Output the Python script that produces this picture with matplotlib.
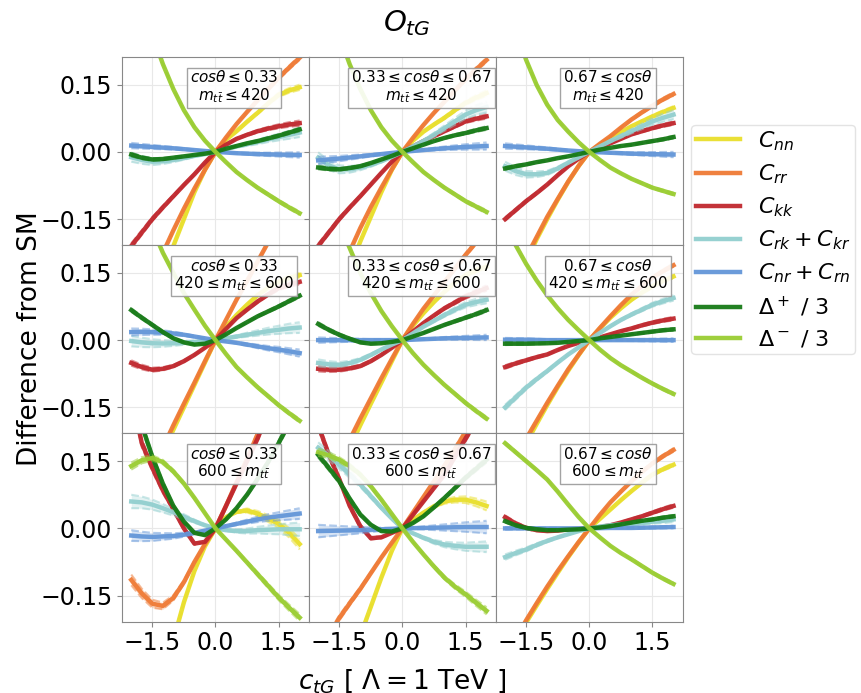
import matplotlib
matplotlib.use('Agg')
import matplotlib.pyplot as plt
import numpy as np

# scan points in c_tG
ctg = [-2.0, -1.75, -1.5, -1.25, -1.0, -0.75, -0.5, -0.25, 0.0,
       0.25, 0.5, 0.75, 1.0, 1.25, 1.5, 1.75, 2.0]

# panel order: row = m_tt bin, column = cos(theta) bin
cos_bins = [r'$cos\theta \leq 0.33$',
            r'$0.33 \leq cos\theta \leq 0.67$',
            r'$0.67 \leq cos\theta$']
mtt_bins = [r'$m_{t\bar{t}} \leq 420$',
            r'$420 \leq m_{t\bar{t}} \leq 600$',
            r'$600 \leq m_{t\bar{t}}$']

cnn = [[-0.45, -0.39, -0.33, -0.27, -0.21, -0.15, -0.09, -0.04, 0, 0.027, 0.046, 0.067, 0.087, 0.108, 0.127, 0.137, 0.144],
       [-0.44, -0.38, -0.32, -0.26, -0.20, -0.145, -0.09, -0.04, 0, 0.025, 0.045, 0.061, 0.076, 0.093, 0.109, 0.121, 0.131],
       [-0.35, -0.295, -0.245, -0.195, -0.15, -0.107, -0.067, -0.031, 0, 0.016, 0.031, 0.044, 0.057, 0.068, 0.079, 0.089, 0.098],
       [-0.42, -0.36, -0.30, -0.25, -0.20, -0.15, -0.10, -0.05, 0, 0.03, 0.056, 0.079, 0.10, 0.117, 0.13, 0.139, 0.145],
       [-0.40, -0.345, -0.29, -0.24, -0.19, -0.142, -0.095, -0.047, 0, 0.032, 0.06, 0.085, 0.108, 0.128, 0.145, 0.156, 0.164],
       [-0.32, -0.275, -0.23, -0.187, -0.145, -0.105, -0.068, -0.033, 0, 0.026, 0.05, 0.071, 0.09, 0.106, 0.12, 0.132, 0.142],
       [-0.70, -0.57, -0.45, -0.345, -0.25, -0.165, -0.095, -0.04, 0, 0.025, 0.037, 0.04, 0.033, 0.022, 0.01, -0.01, -0.035],
       [-0.50, -0.44, -0.38, -0.31, -0.24, -0.175, -0.11, -0.05, 0, 0.019, 0.035, 0.049, 0.06, 0.064, 0.064, 0.058, 0.05],
       [-0.30, -0.255, -0.21, -0.172, -0.135, -0.099, -0.064, -0.031, 0, 0.021, 0.042, 0.063, 0.083, 0.102, 0.12, 0.132, 0.142]]

crr = [[-0.40, -0.34, -0.28, -0.226, -0.175, -0.127, -0.082, -0.04, 0, 0.032, 0.062, 0.089, 0.115, 0.14, 0.165, 0.188, 0.21],
       [-0.39, -0.332, -0.275, -0.222, -0.17, -0.123, -0.08, -0.039, 0, 0.031, 0.06, 0.087, 0.112, 0.137, 0.162, 0.184, 0.205],
       [-0.34, -0.285, -0.235, -0.19, -0.145, -0.105, -0.066, -0.031, 0, 0.018, 0.035, 0.054, 0.072, 0.088, 0.103, 0.117, 0.129],
       [-0.40, -0.345, -0.29, -0.24, -0.19, -0.142, -0.095, -0.047, 0, 0.045, 0.09, 0.132, 0.175, 0.218, 0.26, 0.30, 0.34],
       [-0.37, -0.32, -0.27, -0.222, -0.175, -0.13, -0.085, -0.042, 0, 0.036, 0.07, 0.10, 0.13, 0.16, 0.19, 0.218, 0.245],
       [-0.31, -0.265, -0.22, -0.18, -0.14, -0.102, -0.065, -0.032, 0, 0.027, 0.053, 0.078, 0.101, 0.121, 0.139, 0.154, 0.167],
       [-0.115, -0.145, -0.168, -0.173, -0.155, -0.12, -0.075, -0.035, 0, 0.05, 0.103, 0.155, 0.21, 0.27, 0.33, 0.39, 0.45],
       [-0.28, -0.24, -0.20, -0.167, -0.135, -0.10, -0.065, -0.032, 0, 0.035, 0.07, 0.105, 0.14, 0.177, 0.215, 0.252, 0.29],
       [-0.29, -0.247, -0.205, -0.167, -0.13, -0.095, -0.062, -0.03, 0, 0.03, 0.058, 0.082, 0.105, 0.126, 0.145, 0.161, 0.175]]

ckk = [[-0.21, -0.18, -0.15, -0.124, -0.099, -0.074, -0.05, -0.024, 0, 0.016, 0.029, 0.038, 0.046, 0.052, 0.057, 0.061, 0.064],
       [-0.21, -0.18, -0.15, -0.124, -0.099, -0.073, -0.047, -0.022, 0, 0.012, 0.024, 0.035, 0.046, 0.057, 0.068, 0.074, 0.079],
       [-0.15, -0.13, -0.11, -0.092, -0.073, -0.052, -0.032, -0.015, 0, 0.01, 0.019, 0.029, 0.039, 0.046, 0.053, 0.059, 0.064],
       [-0.051, -0.06, -0.066, -0.064, -0.058, -0.047, -0.033, -0.017, 0, 0.025, 0.049, 0.068, 0.086, 0.102, 0.116, 0.124, 0.13],
       [-0.064, -0.066, -0.066, -0.063, -0.058, -0.047, -0.033, -0.017, 0, 0.019, 0.038, 0.055, 0.071, 0.084, 0.097, 0.107, 0.116],
       [-0.06, -0.052, -0.045, -0.038, -0.032, -0.022, -0.013, -0.006, 0, 0.006, 0.013, 0.02, 0.026, 0.033, 0.039, 0.044, 0.048],
       [0.30, 0.19, 0.135, 0.085, 0.043, 0.0, -0.034, -0.03, 0, 0.05, 0.10, 0.15, 0.20, 0.26, 0.32, 0.375, 0.43],
       [0.23, 0.165, 0.11, 0.05, 0.005, -0.022, -0.02, -0.01, 0, 0.03, 0.06, 0.09, 0.12, 0.16, 0.20, 0.24, 0.28],
       [0.025, 0.011, 0.001, -0.004, -0.006, -0.005, -0.002, -0.001, 0, 0.003, 0.007, 0.013, 0.02, 0.027, 0.035, 0.043, 0.05]]

crk = [[-0.012, -0.018, -0.022, -0.021, -0.018, -0.014, -0.009, -0.005, 0, 0.006, 0.012, 0.017, 0.022, 0.028, 0.033, 0.038, 0.043],
       [-0.013, -0.03, -0.039, -0.039, -0.035, -0.029, -0.021, -0.011, 0, 0.012, 0.024, 0.038, 0.053, 0.068, 0.083, 0.093, 0.10],
       [-0.032, -0.043, -0.05, -0.05, -0.047, -0.037, -0.024, -0.012, 0, 0.012, 0.024, 0.035, 0.046, 0.057, 0.068, 0.076, 0.083],
       [-0.002, -0.005, -0.007, -0.0075, -0.007, -0.006, -0.004, -0.002, 0, 0.004, 0.008, 0.012, 0.016, 0.02, 0.023, 0.026, 0.028],
       [-0.051, -0.054, -0.055, -0.051, -0.044, -0.033, -0.021, -0.01, 0, 0.015, 0.03, 0.043, 0.056, 0.068, 0.079, 0.085, 0.09],
       [-0.15, -0.128, -0.106, -0.087, -0.069, -0.05, -0.032, -0.016, 0, 0.016, 0.031, 0.045, 0.057, 0.068, 0.079, 0.087, 0.094],
       [0.06, 0.058, 0.053, 0.045, 0.036, 0.026, 0.016, 0.007, 0, -0.004, -0.006, -0.006, -0.004, -0.003, -0.002, -0.002, -0.002],
       [0.18, 0.162, 0.142, 0.12, 0.098, 0.072, 0.046, 0.022, 0, -0.011, -0.021, -0.03, -0.036, -0.039, -0.041, -0.041, -0.041],
       [-0.064, -0.055, -0.047, -0.037, -0.028, -0.02, -0.013, -0.006, 0, 0.004, 0.007, 0.009, 0.01, 0.012, 0.015, 0.017, 0.02]]

cnr = [[0.014, 0.0125, 0.011, 0.0095, 0.008, 0.006, 0.004, 0.002, 0, -0.0015, -0.003, -0.004, -0.005, -0.0055, -0.006, -0.0065, -0.007],
       [-0.019, -0.017, -0.015, -0.0125, -0.01, -0.0075, -0.005, -0.0025, 0, 0.002, 0.004, 0.006, 0.008, 0.0095, 0.011, 0.012, 0.013],
       [0.013, 0.0115, 0.01, 0.0085, 0.007, 0.005, 0.003, 0.0015, 0, -0.001, -0.002, -0.003, -0.004, -0.0045, -0.005, -0.0055, -0.006],
       [0.018, 0.0185, 0.018, 0.017, 0.015, 0.012, 0.008, 0.004, 0, -0.003, -0.006, -0.01, -0.014, -0.018, -0.021, -0.025, -0.029],
       [0.0, 0.0, 0.0, 0.0, 0.0, 0.0, 0.0, 0.0, 0, 0.001, 0.002, 0.003, 0.004, 0.0045, 0.005, 0.0055, 0.006],
       [0.001, 0.001, 0.001, 0.0005, 0.0, 0.0, 0.0, 0.0, 0, 0.0, 0.0, 0.0, 0.0, 0.0, 0.0, 0.0, 0.0],
       [-0.016, -0.018, -0.019, -0.018, -0.017, -0.014, -0.01, -0.005, 0, 0.005, 0.01, 0.015, 0.02, 0.024, 0.027, 0.03, 0.033],
       [-0.006, -0.0055, -0.005, -0.0045, -0.004, -0.003, -0.002, -0.001, 0, 0.0005, 0.001, 0.0015, 0.002, 0.0025, 0.003, 0.003, 0.003],
       [0.0, 0.0, 0.0, 0.0, 0.0, 0.0, 0.0, 0.0, 0, 0.0005, 0.001, 0.001, 0.001, 0.0015, 0.002, 0.0025, 0.003]]

dplus = [[-0.006, -0.013, -0.017, -0.016, -0.013, -0.01, -0.007, -0.004, 0, 0.007, 0.013, 0.019, 0.024, 0.03, 0.036, 0.043, 0.05],
         [-0.035, -0.038, -0.039, -0.036, -0.032, -0.025, -0.017, -0.009, 0, 0.008, 0.016, 0.024, 0.031, 0.037, 0.042, 0.048, 0.053],
         [-0.037, -0.032, -0.028, -0.023, -0.019, -0.014, -0.01, -0.005, 0, 0.005, 0.009, 0.013, 0.016, 0.02, 0.024, 0.028, 0.033],
         [0.067, 0.05, 0.034, 0.018, 0.004, -0.005, -0.01, -0.008, 0, 0.013, 0.027, 0.04, 0.053, 0.064, 0.075, 0.087, 0.099],
         [0.036, 0.023, 0.012, 0.003, -0.005, -0.008, -0.007, -0.004, 0, 0.008, 0.016, 0.025, 0.034, 0.042, 0.05, 0.058, 0.067],
         [-0.008, -0.008, -0.008, -0.0075, -0.007, -0.006, -0.004, -0.002, 0, 0.004, 0.007, 0.01, 0.013, 0.016, 0.019, 0.022, 0.024],
         [0.30, 0.23, 0.16, 0.10, 0.05, 0.015, -0.01, -0.015, 0, 0.02, 0.045, 0.075, 0.11, 0.148, 0.19, 0.235, 0.28],
         [0.164, 0.135, 0.105, 0.066, 0.031, 0.008, -0.006, -0.007, 0, 0.012, 0.027, 0.047, 0.068, 0.09, 0.113, 0.133, 0.153],
         [0.016, 0.007, 0.001, -0.002, -0.004, -0.004, -0.003, -0.002, 0, 0.002, 0.005, 0.009, 0.013, 0.017, 0.02, 0.024, 0.027]]

dminus = [[0.40, 0.33, 0.262, 0.196, 0.14, 0.093, 0.055, 0.025, 0, -0.023, -0.045, -0.063, -0.08, -0.095, -0.11, -0.124, -0.137],
          [0.40, 0.33, 0.26, 0.195, 0.14, 0.093, 0.055, 0.025, 0, -0.023, -0.045, -0.063, -0.08, -0.095, -0.11, -0.122, -0.134],
          [0.345, 0.272, 0.205, 0.149, 0.105, 0.071, 0.045, 0.021, 0, -0.018, -0.035, -0.048, -0.06, -0.07, -0.08, -0.087, -0.094],
          [0.38, 0.31, 0.25, 0.195, 0.15, 0.105, 0.068, 0.032, 0, -0.031, -0.06, -0.083, -0.105, -0.125, -0.145, -0.163, -0.18],
          [0.38, 0.315, 0.26, 0.205, 0.15, 0.105, 0.065, 0.031, 0, -0.029, -0.055, -0.078, -0.10, -0.12, -0.14, -0.158, -0.175],
          [0.26, 0.212, 0.17, 0.133, 0.10, 0.071, 0.045, 0.022, 0, -0.021, -0.04, -0.056, -0.07, -0.084, -0.097, -0.109, -0.12],
          [0.139, 0.152, 0.157, 0.148, 0.127, 0.10, 0.068, 0.034, 0, -0.025, -0.05, -0.076, -0.102, -0.128, -0.154, -0.177, -0.199],
          [0.17, 0.163, 0.153, 0.139, 0.12, 0.094, 0.064, 0.032, 0, -0.03, -0.058, -0.085, -0.11, -0.13, -0.147, -0.166, -0.184],
          [0.19, 0.17, 0.15, 0.13, 0.109, 0.082, 0.053, 0.025, 0, -0.02, -0.039, -0.055, -0.069, -0.084, -0.099, -0.112, -0.124]]

# MC stat. half-width of the band at |c_tG| = 2, per panel
err_cnn = [0.006, 0.006, 0.004, 0.005, 0.006, 0.004, 0.012, 0.01, 0.004]
err_crr = [0.005, 0.005, 0.004, 0.005, 0.005, 0.004, 0.012, 0.008, 0.004]
err_ckk = [0.006, 0.005, 0.004, 0.006, 0.006, 0.004, 0.01, 0.008, 0.004]
err_crk = [0.01, 0.012, 0.01, 0.012, 0.008, 0.006, 0.015, 0.012, 0.006]
err_cnr = [0.006, 0.008, 0.006, 0.008, 0.006, 0.004, 0.012, 0.014, 0.003]
err_dp = [0.004, 0.004, 0.003, 0.004, 0.004, 0.003, 0.008, 0.006, 0.003]
err_dm = [0.004, 0.004, 0.003, 0.004, 0.004, 0.003, 0.008, 0.008, 0.003]

labels = [r'$C_{nn}$', r'$C_{rr}$', r'$C_{kk}$', r'$C_{rk} + C_{kr}$',
          r'$C_{nr} + C_{rn}$', r'$\Delta^+$ / 3', r'$\Delta^-$ / 3']
colors = ['#e9df2c', '#ef7a35', '#c0282e', '#92cfcf',
          '#6396d8', '#177a17', '#9acd32']
series = [cnn, crr, ckk, crk, cnr, dplus, dminus]
errors = [err_cnn, err_crr, err_ckk, err_crk, err_cnr, err_dp, err_dm]

fig, axes = plt.subplots(3, 3, figsize=(8.61, 6.93), dpi=100,
                         sharex=True, sharey=True)
fig.subplots_adjust(left=0.1417, right=0.793, top=0.918, bottom=0.103,
                    wspace=0, hspace=0)

x = np.array(ctg)
for i in range(9):
    r, col = divmod(i, 3)
    ax = axes[r, col]
    for vals, errs, color, lab in zip(series, errors, colors, labels):
        y = np.array(vals[i])
        e = errs[i] * np.abs(x) / 2
        ax.fill_between(x, y - e, y + e, color=color, alpha=0.25, lw=0)
        ax.plot(x, y - e, '--', color=color, lw=1.5, alpha=0.5)
        ax.plot(x, y + e, '--', color=color, lw=1.5, alpha=0.5)
        ax.plot(x, y, '-', color=color, lw=3.2, alpha=0.95,
                label=lab if i == 0 else None)
    ax.text(0.6, 0.84, cos_bins[col] + '\n' + mtt_bins[r],
            transform=ax.transAxes, ha='center', va='center', fontsize=11,
            linespacing=1.05,
            bbox=dict(boxstyle='square,pad=0.2', fc='white', ec='#999999',
                      alpha=0.9))
    ax.set_xlim(-2.22, 2.22)
    ax.set_ylim(-0.208, 0.212)
    ax.set_xticks([-1.5, 0.0, 1.5])
    ax.set_yticks([-0.15, 0.0, 0.15])
    ax.grid(color='#e8e8e8', lw=0.8)
    ax.set_axisbelow(True)
    for s in ax.spines.values():
        s.set_color('#888888')
    ax.tick_params(labelsize=17, color='#888888')

fig.text(0.472, 0.966, r'$O_{tG}$', ha='center', va='center', fontsize=21)
fig.text(0.035, 0.512, 'Difference from SM', rotation=90,
         ha='center', va='center', fontsize=19)
fig.text(0.467, 0.018, r'$c_{tG}$ [ $\Lambda = 1$ TeV ]',
         ha='center', va='center', fontsize=19)

handles, labs = axes[0, 0].get_legend_handles_labels()
fig.legend(handles, labs, loc='upper left', bbox_to_anchor=(0.803, 0.82),
           borderaxespad=0, borderpad=0.2, fontsize=16, labelspacing=0.43,
           frameon=True, edgecolor='#dddddd')

fig.savefig('out.png', dpi=100)
